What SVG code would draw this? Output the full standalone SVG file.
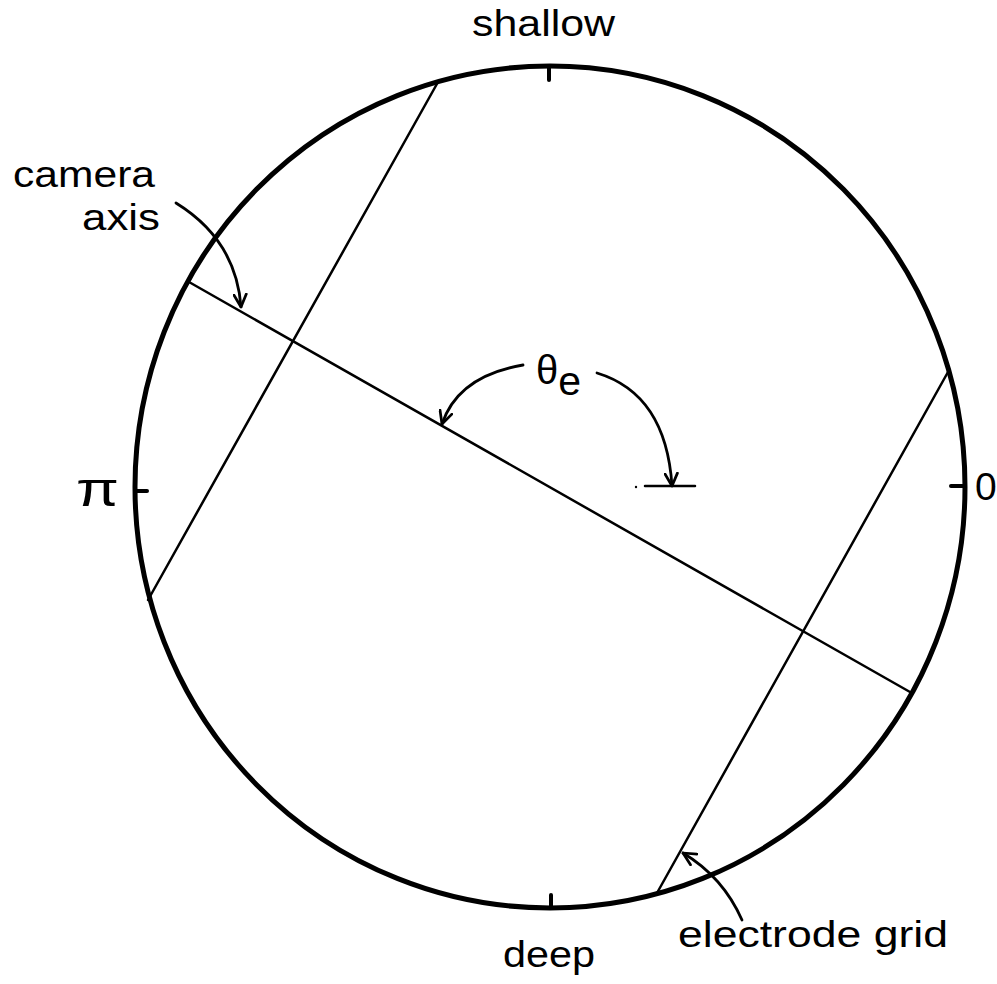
<svg xmlns="http://www.w3.org/2000/svg" width="997" height="984" viewBox="0 0 997 984">
<style>
.lbl{font-family:"Liberation Sans",Arial,sans-serif;font-size:36px;fill:#000}
.ln{stroke:#000;stroke-width:2.5;fill:none;stroke-linecap:round}
.tk{stroke:#000;stroke-width:4;fill:none;stroke-linecap:round}
.arr{stroke:#000;stroke-width:2.8;fill:none;stroke-linecap:round;marker-end:url(#ah)}
</style>
<defs>
<marker id="ah" viewBox="0 0 12 12" refX="11" refY="6" markerWidth="15" markerHeight="15" markerUnits="userSpaceOnUse" orient="auto">
<path d="M1,1 L11,6 L1,11" fill="none" stroke="#000" stroke-width="2.2" stroke-linecap="round" stroke-linejoin="round"/>
</marker>
</defs>
<rect width="997" height="984" fill="#fff"/>
<g id="circle">
<ellipse cx="550" cy="487" rx="415" ry="421" fill="none" stroke="#000" stroke-width="5"/>
<line x1="549" y1="66" x2="549" y2="80" class="tk"/>
<line x1="551" y1="908" x2="551" y2="895" class="tk"/>
<line x1="135" y1="491" x2="147" y2="491" class="tk"/>
<line x1="965" y1="486" x2="951" y2="486" class="tk"/>
</g>
<g id="camera-axis-line">
<line x1="189" y1="282" x2="910" y2="692" class="ln"/>
</g>
<g id="electrode-grid-lines">
<line x1="438" y1="82" x2="148" y2="600" class="ln"/>
<line x1="948" y1="372" x2="657" y2="893" class="ln"/>
</g>
<g id="reference-line">
<line x1="645" y1="486" x2="695" y2="486" class="ln"/>
<circle cx="636" cy="487" r="1.2" fill="#000"/>
</g>
<g id="connectors">
<path d="M176,203 Q236,240 241,307" class="arr"/>
<path d="M523,365 Q458,376 442,424" class="arr"/>
<path d="M597,373 Q666,394 672,486" class="arr"/>
<path d="M742,920 Q723,877 683,853" class="arr"/>
</g>
<g id="labels">
<text class="lbl" x="472" y="36" textLength="143" lengthAdjust="spacingAndGlyphs">shallow</text>
<text class="lbl" x="503" y="967" textLength="92" lengthAdjust="spacingAndGlyphs">deep</text>
<text class="lbl" x="13" y="187" textLength="142" lengthAdjust="spacingAndGlyphs">camera</text>
<text class="lbl" x="82" y="230" textLength="78" lengthAdjust="spacingAndGlyphs">axis</text>
<text class="lbl" x="678" y="947" textLength="270" lengthAdjust="spacingAndGlyphs">electrode grid</text>
<text class="lbl" x="76" y="506" style="font-size:48px" textLength="43" lengthAdjust="spacingAndGlyphs">π</text>
<text class="lbl" x="975" y="500" style="font-size:39px">0</text>
<text class="lbl" x="536" y="384" style="font-size:40px">θ<tspan dy="11" style="font-size:41px">e</tspan></text>
</g>
</svg>
